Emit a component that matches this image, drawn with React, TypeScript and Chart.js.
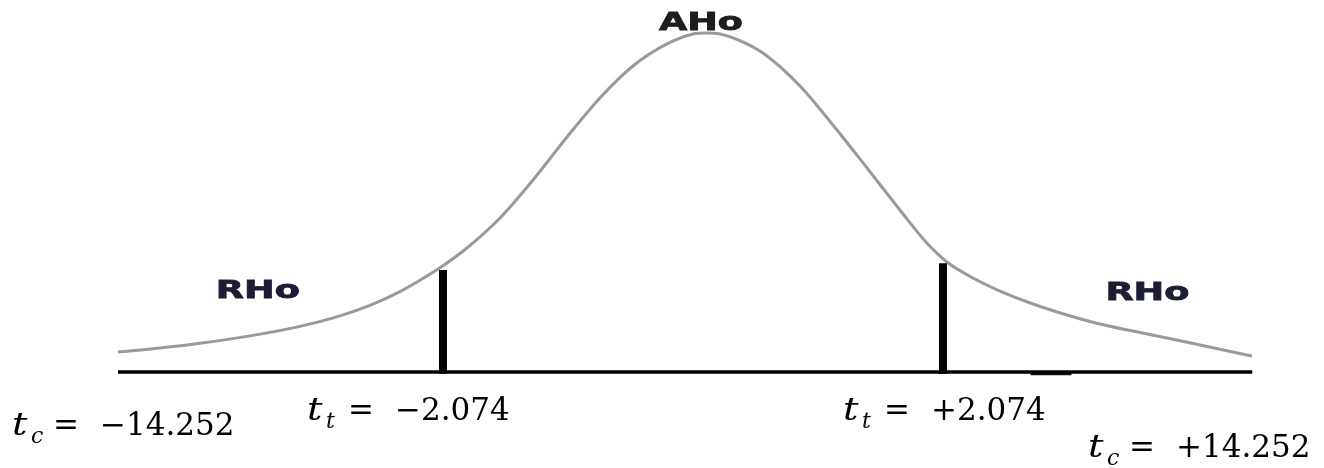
import React, { useEffect, useRef } from "react";
import { Chart, registerables } from "chart.js";

Chart.register(...registerables);

// Curve (t units, density)
const curveT = [-4.77, -4.422, -4.09, -3.675, -3.26, -2.928, -2.68, -2.431, -2.265, -2.074, -1.875, -1.601, -1.327, -1.045, -0.772, -0.498, -0.216, 0, 0.1, 0.224, 0.431, 0.614, 0.888, 1.161, 1.444, 1.717, 1.925, 2.107, 2.339, 2.547, 2.821, 3.103, 3.376, 3.65, 3.932, 4.206, 4.637];
const curveD = [0.0235, 0.0282, 0.0338, 0.0425, 0.0537, 0.066, 0.0784, 0.0946, 0.1079, 0.125, 0.1459, 0.1812, 0.2259, 0.2765, 0.3224, 0.36, 0.3859, 0.3976, 0.3988, 0.3976, 0.3871, 0.3718, 0.3365, 0.2906, 0.24, 0.1906, 0.1541, 0.1294, 0.1094, 0.0953, 0.08, 0.0671, 0.0565, 0.0482, 0.04, 0.0318, 0.0188];

const criticalT = [-2.074, 2.074];
const criticalTop = [0.12, 0.128];
const axisRange = [-4.77, 4.64];
const dashRange = [2.8, 3.14];

const regionNames = ["RHo", "AHo", "RHo"];
const regionT = [-3.61, 0.066, 3.77];
const regionD = [0.095, 0.41, 0.092];

const labelSymbols = ["c", "t", "t", "c"];
const labelValues = ["\u221214.252", "\u22122.074", "+2.074", "+14.252"];
const labelPos = [
  { x: 12, y: 435 },
  { x: 307, y: 420 },
  { x: 843, y: 420 },
  { x: 1088, y: 457 },
];

const textPlugin = {
  id: "textPlugin",
  afterDatasetsDraw(chart: any) {
    const ctx = chart.ctx;
    const xs = chart.scales.x;
    const ys = chart.scales.y;
    ctx.save();
    regionNames.forEach((name, i) => {
      const px = xs.getPixelForValue(regionT[i]);
      const py = ys.getPixelForValue(regionD[i]);
      ctx.font = "bold 25px 'DejaVu Sans'";
      const w = ctx.measureText(name).width;
      const sx = 84 / w;
      ctx.save();
      ctx.translate(px, py);
      ctx.scale(sx, 1);
      ctx.fillStyle = i === 1 ? "#1e1e1e" : "#1c1c34";
      ctx.strokeStyle = ctx.fillStyle;
      ctx.lineWidth = 0.8;
      ctx.textAlign = "center";
      ctx.textBaseline = "middle";
      ctx.fillText(name, 0, 0);
      ctx.strokeText(name, 0, 0);
      ctx.restore();
    });
    ctx.fillStyle = "#000";
    ctx.textAlign = "left";
    ctx.textBaseline = "alphabetic";
    labelValues.forEach((val, i) => {
      const { x, y } = labelPos[i];
      ctx.save();
      ctx.translate(x, y);
      ctx.scale(1.2, 1);
      ctx.font = "italic 32px 'DejaVu Serif'";
      ctx.fillText("t", 0, 0);
      ctx.restore();
      ctx.font = "italic 22px 'DejaVu Serif'";
      ctx.fillText(labelSymbols[i], x + 19, y + 8);
      ctx.font = "31px 'DejaVu Serif'";
      ctx.fillText("=", x + 41, y);
      ctx.fillText(val, x + 88, y);
    });
    ctx.restore();
  },
};

export default function App() {
  const ref = useRef<HTMLCanvasElement | null>(null);
  useEffect(() => {
    if (!ref.current) return;
    const curve = curveT.map((t, i) => ({ x: t, y: curveD[i] }));
    const bars = criticalT.map((t, i) => ({
      type: "line" as const,
      data: [
        { x: t, y: -0.002 },
        { x: t, y: criticalTop[i] },
      ],
      borderColor: "#000",
      borderWidth: 8,
      pointRadius: 0,
      borderCapStyle: "butt" as const,
    }));
    const chart = new Chart(ref.current, {
      type: "line",
      data: {
        datasets: [
          {
            data: [
              { x: axisRange[0], y: 0 },
              { x: axisRange[1], y: 0 },
            ],
            borderColor: "#000",
            borderWidth: 3.5,
            pointRadius: 0,
          },
          {
            data: [
              { x: dashRange[0], y: -0.002 },
              { x: dashRange[1], y: -0.002 },
            ],
            borderColor: "#111",
            borderWidth: 3,
            pointRadius: 0,
          },
          ...bars,
          {
            data: curve,
            borderColor: "#9a9a9a",
            borderWidth: 3,
            pointRadius: 0,
            cubicInterpolationMode: "monotone",
          },
        ] as any,
      },
      options: {
        animation: false,
        responsive: true,
        maintainAspectRatio: false,
        layout: { padding: 0 },
        plugins: { legend: { display: false }, tooltip: { enabled: false } },
        scales: {
          x: { type: "linear", min: -5.749, max: 5.235, display: false },
          y: { type: "linear", min: -0.1129, max: 0.4376, display: false },
        },
      },
      plugins: [textPlugin],
    });
    return () => chart.destroy();
  }, []);
  return (
    <div style={{ position: "absolute", left: 0, top: 0, width: 1324, height: 468, background: "#fff" }}>
      <canvas ref={ref} />
    </div>
  );
}
